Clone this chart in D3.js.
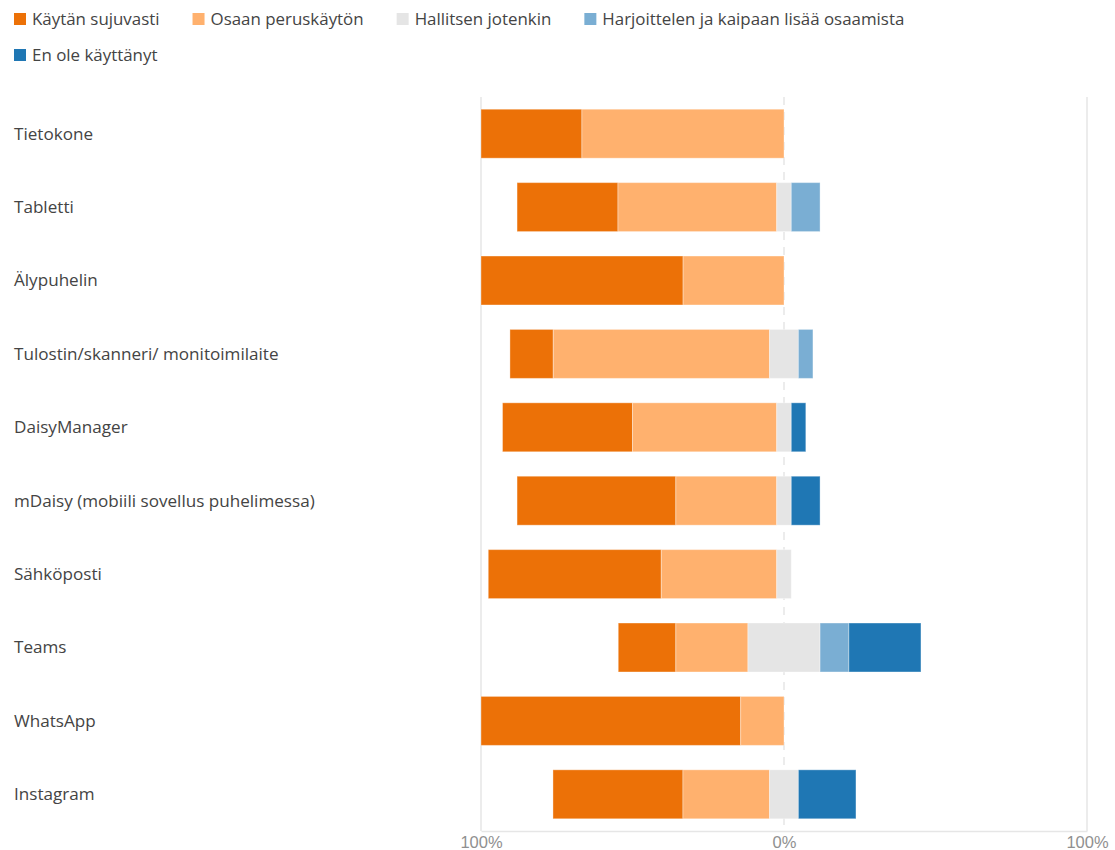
<!DOCTYPE html>
<html>
<head>
<meta charset="utf-8">
<script src="https://cdn.jsdelivr.net/npm/d3@7"></script>
<style>
    body { margin: 0; background: #fff; }
    svg { display: block; font-family: "Open Sans", "Noto Sans", sans-serif; }
    .cat-label { fill: #444; font-size: 17.1px; }
    .legend-label { fill: #444; font-size: 16.9px; }
    .axis-label { fill: #909090; font-size: 16.5px; }
</style>
</head>
<body>
<svg id="chart"></svg>
<script>
// --- Data (percent of respondents) ---
const categories = [
    'Tietokone', 'Tabletti', 'Älypuhelin', 'Tulostin/skanneri/ monitoimilaite', 'DaisyManager',
    'mDaisy (mobiili sovellus puhelimessa)', 'Sähköposti', 'Teams', 'WhatsApp', 'Instagram'
];
const seriesNames = [
    'Käytän sujuvasti', 'Osaan peruskäytön', 'Hallitsen jotenkin',
    'Harjoittelen ja kaipaan lisää osaamista', 'En ole käyttänyt'
];
const kaytan       = [33.3, 33.3, 66.7, 14.3, 42.9, 52.4, 57.1, 19.0, 85.7, 42.9];
const osaan        = [66.7, 52.4, 33.3, 71.4, 47.6, 33.3, 38.1, 23.8, 14.3, 28.6];
const hallitsen    = [0,    4.8,  0,    9.5,  4.8,  4.8,  4.8,  23.8, 0,    9.5];
const harjoittelen = [0,    9.5,  0,    4.8,  0,    0,    0,    9.5,  0,    0];
const enOle        = [0,    0,    0,    0,    4.8,  9.5,  0,    23.8, 0,    19.0];
const tickValues = [-100, 0, 100];
const tickLabels = ['100%', '0%', '100%'];

const colors = ['#ec7107', '#ffb16e', '#e5e5e5', '#7aaed3', '#1f77b4'];
const series = [kaytan, osaan, hallitsen, harjoittelen, enOle];

const width = 1115, height = 850;
const plot = { left: 481, right: 1087, top: 97, bottom: 831 };

const svg = d3.select('#chart').attr('width', width).attr('height', height);

const x = d3.scaleLinear().domain([-100, 100]).range([plot.left, plot.right]);
const y = d3.scaleBand()
    .domain(categories)
    .range([plot.top, plot.bottom])
    .paddingInner(0.333)
    .paddingOuter(0.1665);

// --- Grid lines ---
svg.append('g')
    .selectAll('line')
    .data(tickValues)
    .join('line')
    .attr('x1', d => x(d)).attr('x2', d => x(d))
    .attr('y1', plot.top).attr('y2', plot.bottom)
    .attr('stroke', '#e6e6e6')
    .attr('stroke-width', 1.5)
    .attr('stroke-dasharray', d => d === 0 ? '8,7' : null);

// --- Bars: neutral segment centred on 0 ---
const rows = categories.map((c, i) => {
    let start = -(kaytan[i] + osaan[i] + hallitsen[i] / 2);
    return series.map((s, k) => {
        const seg = { cat: c, k, x0: start, x1: start + s[i] };
        start += s[i];
        return seg;
    }).filter(d => d.x1 - d.x0 > 0);
});

svg.append('g')
    .selectAll('g')
    .data(rows)
    .join('g')
    .selectAll('rect')
    .data(d => d)
    .join('rect')
    .attr('x', d => x(d.x0))
    .attr('y', d => y(d.cat))
    .attr('width', d => x(d.x1) - x(d.x0))
    .attr('height', y.bandwidth())
    .attr('fill', d => colors[d.k])
    .attr('stroke', 'rgba(255,255,255,0.35)')
    .attr('stroke-width', 1);

// --- Category labels ---
svg.append('g')
    .selectAll('text')
    .data(categories)
    .join('text')
    .attr('class', 'cat-label')
    .attr('x', 14)
    .attr('y', d => y(d) + y.bandwidth() / 2)
    .attr('dy', '0.35em')
    .text(d => d);

// --- Bottom axis ---
const axis = svg.append('g')
    .attr('transform', `translate(0,${plot.bottom})`)
    .call(d3.axisBottom(x).tickValues(tickValues).tickSize(0).tickPadding(5)
        .tickFormat((d, i) => tickLabels[i]));
axis.select('.domain').attr('stroke', '#e6e6e6').attr('stroke-width', 1.5);
axis.selectAll('text').attr('class', 'axis-label').attr('font-family', null).attr('font-size', null).attr('fill', null);

// --- Legend ---
const legend = svg.append('g');
let lx = 14, ly = 19;
seriesNames.forEach((name, k) => {
    if (k === 4) { lx = 14; ly = 55; }
    const item = legend.append('g').attr('transform', `translate(${lx},${ly})`);
    item.append('rect').attr('x', 0).attr('y', -6).attr('width', 12).attr('height', 12).attr('fill', colors[k]);
    const t = item.append('text').attr('class', 'legend-label').attr('x', 18).attr('dy', '0.35em').text(name);
    lx += 18 + t.node().getComputedTextLength() + 33;
});
</script>
</body>
</html>
